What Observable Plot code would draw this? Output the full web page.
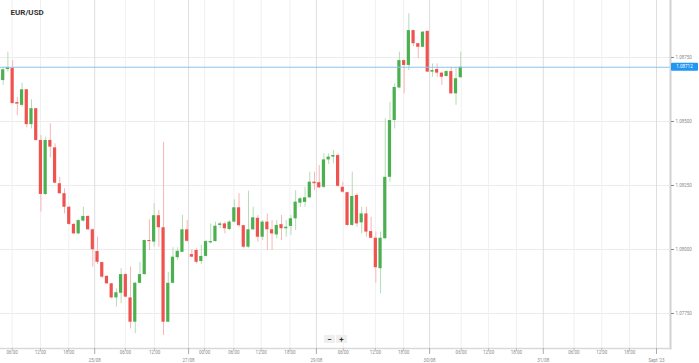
<!DOCTYPE html>
<html><head><meta charset="utf-8">
<script src="https://cdn.jsdelivr.net/npm/d3@7"></script>
<script src="https://cdn.jsdelivr.net/npm/@observablehq/plot@0.6"></script>
<style>body{margin:0;background:#fff;} #chart{width:699px;height:363px;}</style>
</head><body><div id="chart"></div>
<script>
const title = "EUR/USD";
const opens = [1.08660, 1.08703, 1.08708, 1.08574, 1.08563, 1.08624, 1.08488, 1.08550, 1.08426, 1.08215,
 1.08426, 1.08397, 1.08257, 1.08218, 1.08165, 1.08098, 1.08061, 1.08111, 1.08129, 1.08077,
 1.07992, 1.07949, 1.07895, 1.07866, 1.07811, 1.07829, 1.07902, 1.07811, 1.07716, 1.07868,
 1.07902, 1.08035, 1.08029, 1.08132, 1.08085, 1.07716, 1.07868, 1.07968, 1.07989, 1.08077,
 1.07980, 1.07996, 1.07953, 1.07973, 1.08026, 1.08031, 1.08094, 1.08100, 1.08078, 1.08107,
 1.08163, 1.08093, 1.08009, 1.08077, 1.08122, 1.08048, 1.08107, 1.08077, 1.08057, 1.08097,
 1.08081, 1.08090, 1.08120, 1.08181, 1.08184, 1.08202, 1.08263, 1.08261, 1.08243, 1.08350,
 1.08361, 1.08367, 1.08243, 1.08222, 1.08094, 1.08211, 1.08104, 1.08139, 1.08070, 1.08044,
 1.07925, 1.08042, 1.08282, 1.08504, 1.08631, 1.08738, 1.08719, 1.08855, 1.08804, 1.08790,
 1.08852, 1.08693, 1.08703, 1.08689, 1.08676, 1.08695, 1.08608, 1.08671];
const highs = [1.08712, 1.08771, 1.08738, 1.08595, 1.08650, 1.08625, 1.08585, 1.08551, 1.08445, 1.08439,
 1.08491, 1.08413, 1.08282, 1.08237, 1.08168, 1.08102, 1.08116, 1.08165, 1.08133, 1.08081,
 1.08048, 1.07950, 1.07898, 1.07868, 1.07846, 1.07925, 1.07907, 1.07931, 1.07872, 1.07950,
 1.08037, 1.08116, 1.08179, 1.08152, 1.08419, 1.07911, 1.08007, 1.08007, 1.08133, 1.08113,
 1.07999, 1.08003, 1.08016, 1.08035, 1.08100, 1.08107, 1.08107, 1.08107, 1.08113, 1.08194,
 1.08218, 1.08094, 1.08228, 1.08165, 1.08133, 1.08113, 1.08139, 1.08113, 1.08113, 1.08133,
 1.08113, 1.08133, 1.08230, 1.08204, 1.08243, 1.08302, 1.08302, 1.08328, 1.08374, 1.08374,
 1.08387, 1.08374, 1.08263, 1.08224, 1.08302, 1.08218, 1.08165, 1.08165, 1.08126, 1.08068,
 1.08068, 1.08511, 1.08575, 1.08647, 1.08771, 1.08740, 1.08921, 1.08857, 1.08805, 1.08852,
 1.08854, 1.08725, 1.08725, 1.08693, 1.08699, 1.08712, 1.08712, 1.08771];
const lows = [1.08641, 1.08693, 1.08568, 1.08523, 1.08556, 1.08475, 1.08471, 1.08422, 1.08146, 1.08211,
 1.08358, 1.08257, 1.08215, 1.08139, 1.08094, 1.08059, 1.08057, 1.08107, 1.08074, 1.07931,
 1.07941, 1.07887, 1.07863, 1.07807, 1.07775, 1.07788, 1.07811, 1.07690, 1.07671, 1.07866,
 1.07900, 1.07996, 1.08009, 1.08009, 1.07664, 1.07715, 1.07866, 1.07957, 1.07988, 1.08029,
 1.07968, 1.07944, 1.07941, 1.07970, 1.08022, 1.08029, 1.08081, 1.08061, 1.08074, 1.08103,
 1.08087, 1.08003, 1.08005, 1.08074, 1.08029, 1.08035, 1.07996, 1.07996, 1.08042, 1.08035,
 1.08048, 1.08055, 1.08074, 1.08165, 1.08165, 1.08198, 1.08230, 1.08237, 1.08237, 1.08332,
 1.08335, 1.08243, 1.08219, 1.08091, 1.08090, 1.08087, 1.08061, 1.08048, 1.08042, 1.07868,
 1.07827, 1.08041, 1.08263, 1.08471, 1.08628, 1.08608, 1.08699, 1.08793, 1.08745, 1.08788,
 1.08691, 1.08673, 1.08673, 1.08641, 1.08673, 1.08607, 1.08563, 1.08669];
const closes = [1.08702, 1.08711, 1.08570, 1.08568, 1.08624, 1.08488, 1.08550, 1.08426, 1.08215, 1.08426,
 1.08400, 1.08259, 1.08218, 1.08165, 1.08098, 1.08061, 1.08113, 1.08129, 1.08077, 1.07999,
 1.07950, 1.07892, 1.07866, 1.07811, 1.07831, 1.07902, 1.07814, 1.07716, 1.07868, 1.07902,
 1.08035, 1.08031, 1.08132, 1.08085, 1.07716, 1.07868, 1.07970, 1.07993, 1.08077, 1.08032,
 1.07970, 1.07950, 1.07973, 1.08031, 1.08031, 1.08091, 1.08100, 1.08081, 1.08107, 1.08163,
 1.08093, 1.08009, 1.08077, 1.08124, 1.08048, 1.08107, 1.08077, 1.08061, 1.08094, 1.08081,
 1.08087, 1.08120, 1.08185, 1.08198, 1.08202, 1.08263, 1.08257, 1.08241, 1.08350, 1.08361,
 1.08367, 1.08247, 1.08224, 1.08094, 1.08207, 1.08100, 1.08139, 1.08068, 1.08044, 1.07929,
 1.08044, 1.08282, 1.08504, 1.08633, 1.08738, 1.08719, 1.08855, 1.08804, 1.08790, 1.08849,
 1.08693, 1.08699, 1.08689, 1.08673, 1.08695, 1.08608, 1.08667, 1.08712];
const priceTicks = [1.0775, 1.0800, 1.0825, 1.0850, 1.0875];
const hourTicks = [1.9, 7.9, 13.9, 25.9, 32.1, 42.7, 48.9, 54.7, 60.8, 72.1, 78.9, 84.9, 97.1, 102.9, 108.8, 121.0, 126.9, 132.8];
const hourLabels = ["06:00","12:00","18:00","06:00","12:00","00:00","06:00","12:00","18:00","06:00","12:00","18:00","06:00","12:00","18:00","06:00","12:00","18:00"];
const dateTicks = [19.4, 39.3, 66.4, 90.4, 114.5, 138.5];
const dateLabels = ["25/08","27/08","29/08","30/08","31/08","Sept '23"];
const lastPrice = 1.08712;

const candles = opens.map((o, i) => ({i, o, h: highs[i], l: lows[i], c: closes[i], up: closes[i] >= o}));
const hourData = hourTicks.map((x, k) => ({x, label: hourLabels[k]}));
const dateData = dateTicks.map((x, k) => ({x, label: dateLabels[k]}));

const UP = "#4caf50", DOWN = "#ef5350", UPW = "#b5dcb6", DOWNW = "#f8b6b5";

const chart = Plot.plot({
  width: 699, height: 363,
  marginLeft: 0, marginRight: 29, marginTop: 0, marginBottom: 15,
  style: {fontFamily: "Roboto, sans-serif", background: "#fff", overflow: "visible"},
  x: {type: "linear", domain: [-0.57, 141.47], label: null},
  y: {domain: [1.076133, 1.089727], label: null},
  marks: [
    Plot.gridY(priceTicks, {stroke: "#ececec", strokeOpacity: 1}),
    Plot.gridX(hourTicks, {stroke: "#f0f0f0", strokeOpacity: 1}),
    Plot.gridX(dateTicks, {stroke: "#dedede", strokeOpacity: 1}),
    Plot.ruleX(candles, {x: "i", y1: "l", y2: "h", stroke: d => d.up ? UPW : DOWNW, strokeWidth: 1}),
    Plot.rect(candles, {x1: d => d.i - 0.34, x2: d => d.i + 0.34, y1: "o", y2: "c", fill: d => d.up ? UP : DOWN}),
    Plot.ruleY([lastPrice], {stroke: "#8cc4ee", strokeWidth: 1}),
    Plot.frame({anchor: "right", stroke: "#d2d2d2", strokeWidth: 2}),
    Plot.frame({anchor: "bottom", stroke: "#d9d9d9", strokeWidth: 1.5}),
    Plot.axisY(priceTicks, {anchor: "right", label: null, tickSize: 3, tickPadding: 2, tickFormat: d3.format(".5f"), fontSize: 4.5, color: "#8a8a8a"}),
    Plot.axisX(hourTicks, {label: null, tickSize: 3, tickFormat: () => "", color: "#bbbbbb"}),
    Plot.axisX(dateTicks, {label: null, tickSize: 6, tickFormat: () => "", color: "#aaaaaa"}),
    Plot.text(hourData, {x: "x", text: "label", frameAnchor: "bottom", dy: 5.5, fontSize: 4.5, fill: "#8a8a8a"}),
    Plot.text(dateData, {x: "x", text: "label", frameAnchor: "bottom", dy: 13, fontSize: 4.5, fill: "#8a8a8a"}),
    Plot.text([title], {frameAnchor: "top-left", dx: 10, dy: 11.5, lineAnchor: "middle", textAnchor: "start", fontWeight: "bold", fontSize: 8, fill: "#333"})
  ]
});

const svg = d3.select(chart);
const yp = chart.scale("y").apply(lastPrice);
const lab = svg.append("g");
lab.append("rect").attr("x", 671).attr("y", yp - 4).attr("width", 27).attr("height", 8).attr("rx", 1).attr("fill", "#2196f3");
lab.append("text").attr("x", 684.5).attr("y", yp).attr("dy", "0.35em").attr("text-anchor", "middle")
  .attr("font-size", 4.5).attr("fill", "#fff").text(d3.format(".5f")(lastPrice));

const zb = svg.append("g").attr("font-size", 8).attr("fill", "#333").attr("text-anchor", "middle");
[["\u2212", 324], ["+", 336]].forEach(([t, x]) => {
  zb.append("rect").attr("x", x).attr("y", 335).attr("width", 11).attr("height", 8).attr("fill", "#efefef");
  zb.append("text").attr("x", x + 5.5).attr("y", 339).attr("dy", "0.35em").attr("font-weight", "bold").text(t);
});

document.getElementById("chart").appendChild(chart);
</script>
</body></html>
